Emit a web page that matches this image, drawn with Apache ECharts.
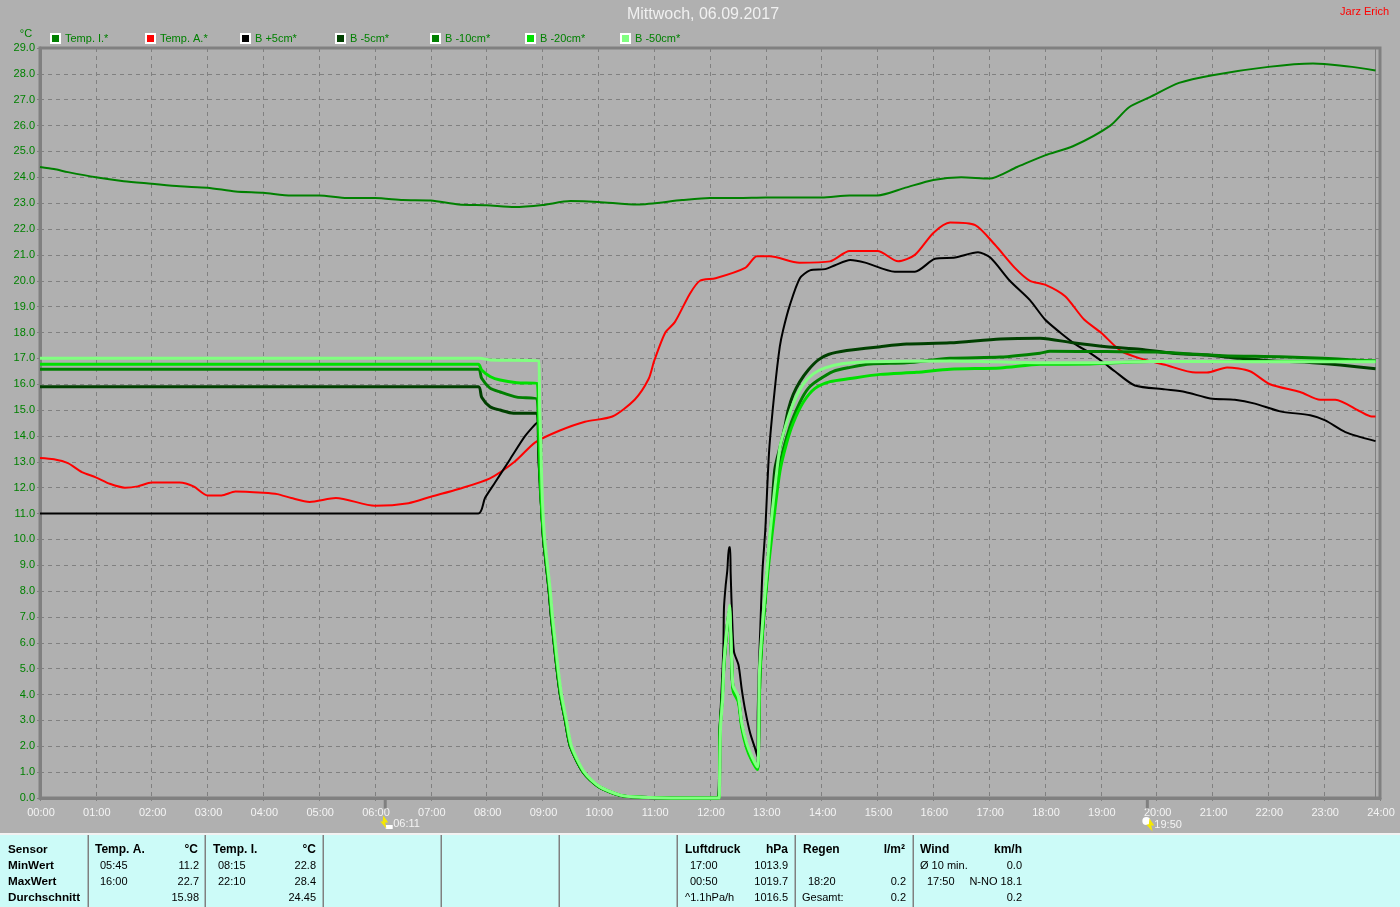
<!DOCTYPE html>
<html><head><meta charset="utf-8">
<style>html,body{margin:0;padding:0;background:#b0b0b0}#c{width:1400px;height:907px}</style>
<script src="https://cdn.jsdelivr.net/npm/echarts@6/dist/echarts.min.js"></script>
</head><body><div id="c"></div>
<script>
const titleText = 'Mittwoch, 06.09.2017';
const authorText = 'Jarz Erich';
const seriesNames = ['Temp. I.*','Temp. A.*','B +5cm*','B -5cm*','B -10cm*','B -20cm*','B -50cm*'];
const seriesColors = ['#008000','#ff0000','#000000','#004000','#008000','#00e000','#80ff80'];
const seriesWidths = [2,2,2,3,3,3,3];

const tempI = [[0,24.4],[0.25,24.32],[0.5,24.2],[1,24.0],[1.5,23.85],[2,23.75],[2.5,23.65],[3,23.6],[3.5,23.45],[4,23.4],[4.5,23.3],[5,23.3],[5.5,23.2],[6,23.2],[6.5,23.12],[7,23.1],[7.5,22.95],[8,22.92],[8.5,22.85],[9,22.93],[9.5,23.08],[10,23.05],[10.7,22.95],[11.5,23.12],[12,23.2],[12.5,23.2],[13,23.22],[14,23.22],[14.5,23.3],[15,23.3],[15.5,23.6],[16,23.9],[16.5,24.0],[17,23.95],[17.5,24.4],[18,24.85],[18.5,25.2],[19.17,26.0],[19.5,26.7],[19.88,27.1],[20.4,27.65],[21,27.95],[22,28.27],[22.8,28.4],[23,28.38],[23.5,28.27],[23.92,28.13]];
const tempA = [[0,13.15],[0.25,13.1],[0.5,12.95],[0.75,12.6],[1,12.4],[1.25,12.15],[1.52,12.0],[1.75,12.05],[2,12.2],[2.5,12.2],[2.75,12.05],[3,11.7],[3.25,11.7],[3.5,11.85],[4,11.8],[4.25,11.75],[4.5,11.6],[4.83,11.45],[5.3,11.6],[6,11.3],[6.6,11.4],[7,11.65],[7.5,11.95],[8.05,12.35],[8.5,13.0],[8.87,13.75],[9.3,14.2],[9.76,14.55],[10.25,14.75],[10.65,15.4],[10.9,16.2],[11.0,16.9],[11.2,18.0],[11.37,18.4],[11.64,19.5],[11.82,20.0],[12.1,20.1],[12.63,20.5],[12.84,20.95],[13.07,20.95],[13.6,20.7],[14.15,20.75],[14.5,21.15],[15,21.15],[15.37,20.75],[15.67,21.0],[16,21.85],[16.3,22.25],[16.75,22.15],[17.1,21.4],[17.46,20.5],[17.73,20.0],[18,19.85],[18.36,19.4],[18.7,18.5],[19,18.0],[19.35,17.3],[19.7,17.0],[20.15,16.75],[20.7,16.45],[20.9,16.45],[21.26,16.65],[21.67,16.5],[22.03,16.0],[22.57,15.7],[22.93,15.4],[23.2,15.4],[23.64,14.95],[23.85,14.75],[23.92,14.75]];
const bPlus5 = [[0,11],[7.85,11],[7.97,11.6],[8.15,12.2],[8.42,13.1],[8.69,14.0],[8.9,14.5],[8.93,13.0],[8.96,12],[8.98,11],[9.01,10],[9.06,9],[9.11,8],[9.15,7],[9.2,6],[9.25,5],[9.31,4],[9.4,3],[9.49,2],[9.72,1],[9.99,0.45],[10.38,0.1],[10.75,0.03],[11.28,0],[12.15,0],[12.18,2.9],[12.21,4.3],[12.24,5.85],[12.25,7.35],[12.28,8.2],[12.31,8.8],[12.34,9.7],[12.36,9.7],[12.37,8.7],[12.40,6.75],[12.43,5.65],[12.51,5.15],[12.57,4.18],[12.63,3.4],[12.72,2.5],[12.81,1.9],[12.85,1.6],[12.855,3.3],[12.87,4.7],[12.90,6.5],[12.94,8.8],[12.99,10.36],[13.06,13.45],[13.16,15.8],[13.25,17.45],[13.31,18.1],[13.43,19.06],[13.61,20.1],[13.79,20.4],[14.06,20.45],[14.24,20.6],[14.51,20.8],[14.78,20.7],[15.31,20.35],[15.67,20.35],[16.03,20.85],[16.39,20.9],[16.8,21.1],[17.02,20.9],[17.37,20.0],[17.73,19.25],[18,18.5],[18.27,18.0],[18.54,17.55],[18.81,17.2],[19.04,16.85],[19.25,16.5],[19.61,15.95],[20.15,15.8],[20.51,15.7],[20.96,15.45],[21.4,15.4],[21.76,15.25],[22.21,14.95],[22.75,14.8],[23.02,14.6],[23.38,14.15],[23.92,13.8]];
const bMinus5 = [[0,15.9],[7.85,15.9],[7.91,15.5],[8.06,15.13],[8.24,15.0],[8.48,14.88],[8.9,14.88],[8.93,13.5],[8.96,12],[8.99,11],[9.02,10],[9.07,9],[9.12,8],[9.16,7],[9.21,6],[9.26,5],[9.32,4],[9.41,3],[9.5,2],[9.73,1],[10.0,0.45],[10.39,0.1],[10.76,0.03],[11.29,0],[12.15,0],[12.18,2.7],[12.22,3.9],[12.25,5.2],[12.3,6.5],[12.35,7.3],[12.37,6.4],[12.4,4.6],[12.42,4.2],[12.51,3.8],[12.57,2.8],[12.66,2.0],[12.75,1.5],[12.85,1.15],[12.87,2.0],[12.89,4.55],[12.92,5.85],[12.97,7.3],[13.03,8.8],[13.09,10.4],[13.16,12.7],[13.27,13.7],[13.34,14.35],[13.4,15.0],[13.49,15.6],[13.61,16.1],[13.76,16.55],[13.94,16.94],[14.12,17.15],[14.45,17.3],[15.05,17.45],[15.52,17.55],[16.3,17.6],[17.2,17.75],[17.91,17.78],[18.5,17.6],[19.1,17.45],[19.7,17.35],[20.29,17.2],[20.9,17.13],[21.49,17.0],[22.08,16.9],[22.69,16.85],[23.29,16.74],[23.92,16.6]];
const bMinus10 = [[0,16.58],[7.85,16.58],[7.91,16.23],[8.06,15.85],[8.24,15.7],[8.54,15.5],[8.9,15.43],[8.93,14],[8.96,12.2],[8.99,11],[9.02,10],[9.07,9],[9.12,8],[9.16,7],[9.21,6],[9.26,5],[9.32,4],[9.41,3],[9.5,2],[9.73,1],[10.0,0.45],[10.39,0.1],[10.76,0.03],[11.29,0],[12.15,0],[12.18,2.7],[12.22,3.9],[12.25,5.2],[12.3,6.5],[12.35,7.3],[12.37,6.4],[12.4,4.6],[12.42,4.2],[12.51,3.8],[12.57,2.8],[12.66,2.0],[12.75,1.5],[12.85,1.15],[12.87,2.0],[12.89,4.55],[12.92,5.85],[12.97,7.3],[13.03,8.8],[13.1,10.4],[13.22,12.6],[13.43,14.35],[13.61,15.3],[13.76,15.84],[13.94,16.16],[14.21,16.5],[14.51,16.65],[14.87,16.78],[15.52,16.83],[16.3,17.0],[17.2,17.05],[17.91,17.2],[18.09,17.27],[19.1,17.26],[20,17.25],[20.6,17.17],[21.19,17.1],[22.21,17.06],[22.98,17.0],[23.52,16.94],[23.92,16.9]];
const bMinus20 = [[0,16.77],[7.85,16.77],[7.91,16.55],[8.06,16.3],[8.24,16.16],[8.54,16.06],[8.9,16.03],[8.93,14.5],[8.96,12.4],[8.99,11],[9.03,10],[9.08,9],[9.13,8],[9.17,7],[9.22,6],[9.27,5],[9.33,4],[9.42,3],[9.51,2],[9.74,1],[10.01,0.45],[10.4,0.1],[10.77,0.03],[11.3,0],[12.16,0],[12.18,2.6],[12.22,3.8],[12.25,5.1],[12.3,6.4],[12.35,7.2],[12.37,6.3],[12.4,4.5],[12.42,4.1],[12.51,3.7],[12.57,2.7],[12.66,1.9],[12.75,1.45],[12.85,1.1],[12.87,1.9],[12.89,4.4],[12.92,5.7],[12.97,7.2],[13.04,8.8],[13.12,10.36],[13.25,12.6],[13.37,13.7],[13.49,14.5],[13.67,15.3],[13.88,15.84],[14.15,16.1],[14.51,16.22],[15.05,16.38],[15.7,16.46],[16.3,16.58],[17.2,16.63],[17.91,16.77],[18.81,16.78],[19.88,16.88],[21.67,16.88],[23.92,16.9]];
const bMinus50 = [[0,17.0],[7.88,17.0],[8.06,16.94],[8.93,16.9],[8.95,15],[8.97,13.7],[8.99,12],[9.01,11],[9.04,10],[9.09,9],[9.14,8],[9.18,7],[9.23,6],[9.28,5],[9.34,4],[9.43,3],[9.52,2],[9.75,1],[10.02,0.45],[10.41,0.1],[10.78,0.03],[11.3,0],[12.165,0],[12.17,0.5],[12.19,2.75],[12.23,3.9],[12.25,5.2],[12.30,6.5],[12.35,7.45],[12.37,6.5],[12.40,4.7],[12.42,4.3],[12.51,3.9],[12.57,2.9],[12.66,2.1],[12.75,1.6],[12.85,1.2],[12.87,2.0],[12.88,4.55],[12.91,5.85],[12.96,7.3],[13.02,8.8],[13.08,10.36],[13.25,13.53],[13.37,14.5],[13.49,15.25],[13.67,16.0],[13.85,16.4],[14.06,16.63],[14.39,16.8],[14.87,16.87],[16.3,16.9],[17.91,16.83],[19,16.83],[19.88,16.88],[21.67,16.87],[23.92,16.87]];
const seriesData = [tempI,tempA,bPlus5,bMinus5,bMinus10,bMinus20,bMinus50];

const sunrise = [[6.183,0]];
const sunset = [[19.833,0]];
const sunriseLabel = '06:11';
const sunsetLabel = '19:50';
const endMarker = 23.92;

const yMin = 0, yMax = 29, yStep = 1;
const xMin = 0, xMax = 24, xStep = 1;

const sensorLabels = ['Sensor','MinWert','MaxWert','Durchschnitt'];
const tempAHead = ['Temp. A.','°C'];
const tempATimes = ['05:45','16:00',''];
const tempAValues = ['11.2','22.7','15.98'];
const tempIHead = ['Temp. I.','°C'];
const tempITimes = ['08:15','22:10',''];
const tempIValues = ['22.8','28.4','24.45'];
const pressHead = ['Luftdruck','hPa'];
const pressTimes = ['17:00','00:50','^1.1hPa/h'];
const pressValues = ['1013.9','1019.7','1016.5'];
const rainHead = ['Regen','l/m²'];
const rainTimes = ['','18:20','Gesamt:'];
const rainValues = ['','0.2','0.2'];
const windHead = ['Wind','km/h'];
const windTimes = ['Ø 10 min.','17:50',''];
const windValues = ['0.0','N-NO 18.1','0.2'];

const FONT = '"Liberation Sans", Arial, sans-serif';
const AXIS = '#808080';
const rowY = [850,866,882,898];
const dividers = [88,205,323,441,559,677,795,913];
const legendLefts = [50,145,240,335,430,525,620];

function t(x,y,text,opt){
  opt = opt||{};
  return {type:'text',x:x,y:y,silent:true,z:5,style:{text:text,fill:opt.fill||'#000',
    font:(opt.bold?'bold ':'')+(opt.size||11)+'px '+FONT,textAlign:opt.align||'left',textVerticalAlign:'middle'}};
}
function block(headL,headR,times,values,head,timeOffsets,valR){
  const out=[t(headL,rowY[0],head[0],{bold:true,size:12}),t(headR,rowY[0],head[1],{bold:true,size:12,align:'right'})];
  times.forEach((s,i)=>{ if(s) out.push(t(timeOffsets[i],rowY[i+1],s)); });
  values.forEach((s,i)=>{ if(s) out.push(t(valR,rowY[i+1],s,{align:'right'})); });
  return out;
}
const graphics = [
  {type:'rect',shape:{x:0,y:834,width:1400,height:73},style:{fill:'#ccfbf8'},silent:true,z:1},
  {type:'rect',shape:{x:0,y:833,width:1400,height:2},style:{fill:'#f2f2f2'},silent:true,z:2},
  t(703,15,titleText,{fill:'#f0f0f0',size:16,align:'center'}),
  t(1389,12,authorText,{fill:'#ff0000',size:11,align:'right'})
];
dividers.forEach(x=>graphics.push({type:'rect',shape:{x:x-0.5,y:835,width:1.5,height:72},style:{fill:'#808080'},silent:true,z:3}));
sensorLabels.forEach((s,i)=>graphics.push(t(8,rowY[i],s,{bold:true,size:11.7})));
graphics.push(...block(95,198,tempATimes,tempAValues,tempAHead,[100,100,100],199));
graphics.push(...block(213,316,tempITimes,tempIValues,tempIHead,[218,218,218],316));
graphics.push(...block(685,788,pressTimes,pressValues,pressHead,[690,690,685],788));
graphics.push(...block(803,905,rainTimes,rainValues,rainHead,[808,808,802],906));
graphics.push(...block(920,1022,windTimes,windValues,windHead,[920,927,920],1022));

const pad = n=>String(n).padStart(2,'0');
const lineSeries = seriesNames.map((name,i)=>({
  name:name,type:'line',data:seriesData[i],showSymbol:false,symbol:'none',smooth:0.25,
  lineStyle:{color:seriesColors[i],width:seriesWidths[i],cap:'butt',join:'round'},
  itemStyle:{color:seriesColors[i],borderColor:'#fff',borderWidth:1},
  emphasis:{disabled:true},z:10+i,animation:false,clip:false,
  markLine: i===0 ? {silent:true,symbol:'none',animation:false,label:{show:false},
     lineStyle:{color:AXIS,width:1,type:'solid'},data:[{xAxis:endMarker}]} : undefined
}));
const arrow='path://M4 0 L8 7 L5.5 7 L6.5 13 L1.5 6 L3.5 6 Z';
function marker(data,sym,size,offset,color,label,labelOffset){
  return {type:'scatter',data:data,symbol:sym,symbolSize:size,symbolOffset:offset,clip:false,silent:true,animation:false,z:30,
    itemStyle:{color:color,opacity:1},
    label:label?{show:true,formatter:label,position:'right',distance:4,offset:labelOffset,color:'#f4f4f4',fontSize:11,fontFamily:FONT}:{show:false}};
}
const legends = seriesNames.map((name,i)=>({
  show:true,left:legendLefts[i],top:33,itemWidth:9,itemHeight:9,icon:'rect',selectedMode:false,
  data:[name],padding:0,textStyle:{color:'#008000',fontSize:11,fontFamily:FONT}
}));
const option = {
  backgroundColor:'#b0b0b0',
  animation:false,
  textStyle:{fontFamily:FONT},
  grid:{left:40,right:20,top:48,bottom:109,show:true,backgroundColor:'transparent',borderColor:AXIS,borderWidth:3,containLabel:false},
  legend:legends,
  xAxis:{type:'value',min:xMin,max:xMax,interval:xStep,
    axisLine:{show:true,onZero:false,lineStyle:{color:AXIS,width:3}},
    axisTick:{show:true,length:3,lineStyle:{color:AXIS}},
    axisLabel:{color:'#f4f4f4',fontSize:11,fontFamily:FONT,margin:9,padding:[0,0,0,2],formatter:v=>pad(v)+':00',hideOverlap:false,showMinLabel:true,showMaxLabel:true},
    splitLine:{show:true,lineStyle:{color:AXIS,type:[4,4],width:1}}},
  yAxis:{type:'value',min:yMin,max:yMax,interval:yStep,name:'°C',nameLocation:'end',nameGap:9,
    nameTextStyle:{color:'#008000',fontSize:11,fontFamily:FONT,padding:[0,28,0,0]},
    axisLine:{show:true,onZero:false,lineStyle:{color:AXIS,width:3}},
    axisTick:{show:true,length:3,lineStyle:{color:AXIS}},
    axisLabel:{color:'#008000',fontSize:11,fontFamily:FONT,margin:5,padding:[2,0,0,0],formatter:v=>v.toFixed(1),showMinLabel:true,showMaxLabel:true},
    splitLine:{show:true,lineStyle:{color:AXIS,type:[4,4],width:1}}},
  series:[...lineSeries,
    marker(sunrise,'rect',[3,11],[0,5],AXIS),
    marker(sunrise,'rect',[7,4],[4,29],'#ffffff'),
    marker(sunrise,arrow,[8,13],[-1,24],'#f5e800',sunriseLabel,[1,2]),
    marker(sunset,'rect',[3,11],[0,5],AXIS),
    marker(sunset,'circle',8,[-1,23],'#ffffff'),
    marker(sunset,arrow,[8,13],[3,27],'#f5e800',sunsetLabel,[-4,0])
  ],
  graphic:graphics
};
echarts.init(document.getElementById('c'),null,{renderer:'canvas'}).setOption(option);
</script></body></html>
